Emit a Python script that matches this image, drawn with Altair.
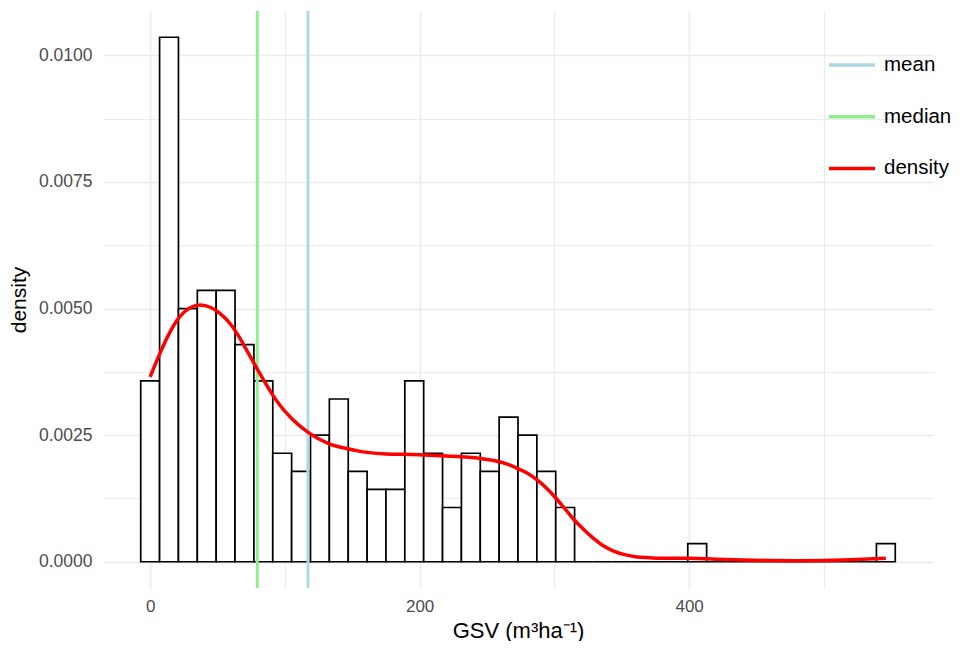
import altair as alt
import pandas as pd

# Histogram bins (left edges, width 14) and counts
bin_left = [-7, 7, 21, 35, 49, 63, 77, 91, 105, 119, 133, 147, 161, 175, 189,
            203, 217, 231, 245, 259, 273, 287, 301, 315, 329, 343, 357, 371,
            385, 399, 413, 427, 441, 455, 469, 483, 497, 511, 525, 539]
counts = [10, 29, 14, 15, 15, 12, 10, 6, 5, 7, 9, 5, 4, 4, 10, 6, 3, 6, 5, 8,
          7, 5, 3, 0, 0, 0, 0, 0, 0, 1, 0, 0, 0, 0, 0, 0, 0, 0, 0, 1]
bin_width = 14
n_obs = 200

mean_value = 117.1
median_value = 79.5

# Kernel density curve
dens_x = [0, 7, 14, 22, 30, 37, 45, 52, 60, 66, 72, 79, 85, 91, 96, 105, 117,
          125, 133, 145, 158, 175, 195, 220, 245, 255, 265, 272, 280, 287, 295,
          302, 308, 314, 322, 329, 336, 344, 352, 360, 370, 380, 400, 420, 440,
          460, 480, 500, 520, 546]
dens_y = [0.00365, 0.00410, 0.00450, 0.00484, 0.00502, 0.00507, 0.00502,
          0.00490, 0.00468, 0.00444, 0.00416, 0.00383, 0.00355, 0.00329,
          0.00310, 0.00283, 0.00256, 0.00243, 0.00233, 0.00224, 0.00217,
          0.00213, 0.00212, 0.00209, 0.00204, 0.00200, 0.00193, 0.00185,
          0.00175, 0.00162, 0.00143, 0.00123, 0.00104, 0.00085, 0.00063,
          0.00046, 0.00032, 0.00021, 0.00014, 0.00010, 0.00008, 0.00007,
          0.00007, 0.00005, 0.000035, 0.000025, 0.00002, 0.000025, 0.00004,
          0.00007]

series_names = ["mean", "median", "density"]
series_colors = ["#ADD8E6", "#90EE90", "#FF0000"]

hist_df = pd.DataFrame({
    "left": bin_left,
    "right": [b + bin_width for b in bin_left],
    "density": [c / (n_obs * bin_width) for c in counts],
})
rule_df = pd.DataFrame({"x": [mean_value, median_value], "series": ["mean", "median"]})
dens_df = pd.DataFrame({"x": dens_x, "y": dens_y, "series": "density"})

FONT = "Liberation Sans"

xscale = alt.Scale(domain=[-35, 581], nice=False, zero=False)
yscale = alt.Scale(domain=[-0.000518, 0.010875], nice=False, zero=False)

grid_w = {"condition": {"test": "datum.value % 200 == 0", "value": 1.6}, "value": 1.1}
ygrid_w = {"condition": {"test": "round(datum.value * 10000) % 25 == 0", "value": 1.6}, "value": 1.1}

xaxis = alt.Axis(
    title="GSV (m³ha⁻¹)",
    values=[0, 100, 200, 300, 400, 500],
    labelExpr="datum.value % 200 == 0 ? datum.label : ''",
    format="d",
    grid=True, gridColor="#EBEBEB", gridWidth=grid_w,
    domain=False, ticks=False,
    labelFont=FONT, labelFontSize=17, labelColor="#4D4D4D", labelPadding=10,
    titleFont=FONT, titleFontSize=22, titleFontWeight="normal", titleColor="#000000",
    titlePadding=6,
)
yaxis = alt.Axis(
    title="density",
    values=[0, 0.00125, 0.0025, 0.00375, 0.005, 0.00625, 0.0075, 0.00875, 0.01],
    labelExpr="round(datum.value * 10000) % 25 == 0 ? datum.label : ''",
    format=".4f",
    grid=True, gridColor="#EBEBEB", gridWidth=ygrid_w,
    domain=False, ticks=False,
    labelFont=FONT, labelFontSize=17.5, labelColor="#4D4D4D", labelPadding=11,
    titleFont=FONT, titleFontSize=21, titleFontWeight="normal", titleColor="#000000",
    titlePadding=9,
)

bars = alt.Chart(hist_df).mark_rect(
    fill="white", stroke="black", strokeWidth=1.7
).encode(
    x=alt.X("left:Q", scale=xscale, axis=xaxis),
    x2="right:Q",
    y=alt.Y("density:Q", scale=yscale, axis=yaxis),
    y2=alt.datum(0),
)

color = alt.Color(
    "series:N",
    scale=alt.Scale(domain=series_names, range=series_colors),
    legend=alt.Legend(
        title=None,
        orient="none",
        legendX=724,
        legendY=29,
        padding=0,
        symbolType="stroke",
        symbolSize=2116,
        symbolStrokeWidth=3.5,
        rowPadding=15.7,
        labelOffset=7,
        labelFont=FONT,
        labelFontSize=20.5,
        labelColor="#000000",
        labelLimit=200,
        labelExpr="datum.label == 'mean' ? '\u00a0mean' : datum.label",
    ),
)

rules = alt.Chart(rule_df).mark_rule(strokeWidth=3).encode(
    x=alt.X("x:Q", scale=xscale),
    color=color,
)

curve = alt.Chart(dens_df).mark_line(strokeWidth=3.5, interpolate="monotone").encode(
    x=alt.X("x:Q", scale=xscale),
    y=alt.Y("y:Q", scale=yscale),
    color=color,
)

chart = alt.layer(bars, rules, curve).properties(
    width=830,
    height=577,
    autosize=alt.AutoSizeParams(type="none"),
    padding={"left": 95, "top": 3, "right": 21, "bottom": 53},
    background="white",
).configure_view(strokeWidth=0)

chart.save("out.html", embed_options={"renderer": "svg", "actions": False})
